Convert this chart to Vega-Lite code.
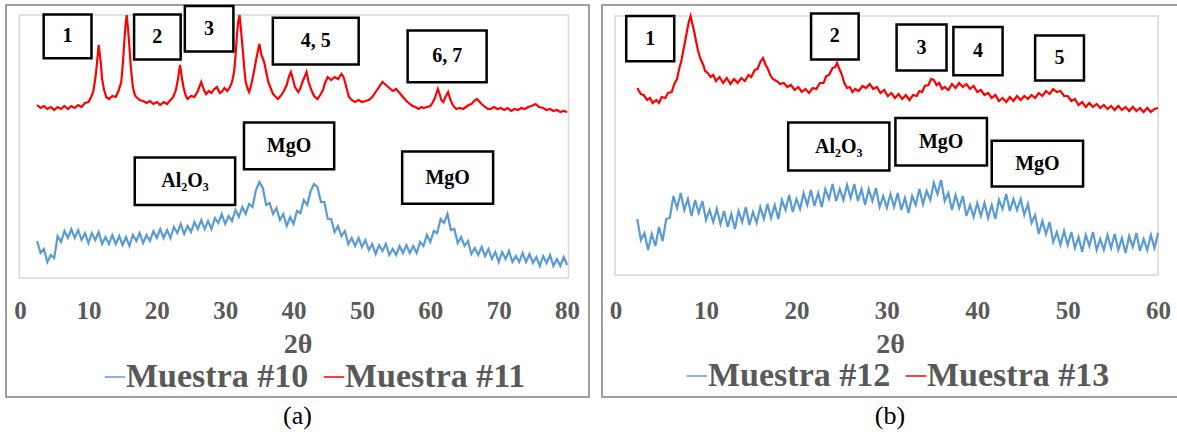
{
"$schema":"https://vega.github.io/schema/vega-lite/v6.json",
"padding":{"left":5,"top":3,"right":0,"bottom":0},
"spacing":11,
"config":{
 "view":{"stroke":"#808080","strokeWidth":1.5},
 "font":"Liberation Serif, DejaVu Serif, serif",
 "axisX":{"offset":-101,"domain":false,"ticks":false,"grid":false,"tickCount":8,"labelFont":"Liberation Serif, DejaVu Serif, serif","labelFontSize":25,"labelFontWeight":"bold","labelColor":"#595959","labelPadding":2,"titleFont":"Liberation Serif, DejaVu Serif, serif","titleFontSize":28,"titleFontWeight":"bold","titleColor":"#595959","titlePadding":7},
 "title":{"font":"Liberation Serif, DejaVu Serif, serif","fontSize":26,"fontWeight":"normal","color":"#000000","offset":6,"anchor":"middle"},
 "legend":{"orient":"none","direction":"horizontal","symbolType":"stroke","symbolSize":420,"symbolStrokeWidth":1.5,"labelFont":"Liberation Serif, DejaVu Serif, serif","labelFontSize":34,"labelFontWeight":"bold","labelColor":"#595959","columnPadding":8,"labelOffset":-6,"padding":0,"labelLimit":400}
},
"datasets":{
"a":[
{"s":"Muestra #10","x":2.5,"y":156},{"s":"Muestra #10","x":3,"y":144},{"s":"Muestra #10","x":3.5,"y":148},{"s":"Muestra #10","x":4,"y":135},{"s":"Muestra #10","x":4.5,"y":142},{"s":"Muestra #10","x":5,"y":139},{"s":"Muestra #10","x":5.5,"y":161},{"s":"Muestra #10","x":6,"y":155},{"s":"Muestra #10","x":6.5,"y":166},{"s":"Muestra #10","x":7,"y":159},{"s":"Muestra #10","x":7.5,"y":168},{"s":"Muestra #10","x":8,"y":159},{"s":"Muestra #10","x":8.5,"y":167},{"s":"Muestra #10","x":9,"y":157},{"s":"Muestra #10","x":9.5,"y":164},{"s":"Muestra #10","x":10,"y":154},{"s":"Muestra #10","x":10.5,"y":164},{"s":"Muestra #10","x":11,"y":157},{"s":"Muestra #10","x":11.5,"y":165},{"s":"Muestra #10","x":12,"y":153},{"s":"Muestra #10","x":12.5,"y":160},{"s":"Muestra #10","x":13,"y":153},{"s":"Muestra #10","x":13.5,"y":162},{"s":"Muestra #10","x":14,"y":153},{"s":"Muestra #10","x":14.5,"y":161},{"s":"Muestra #10","x":15,"y":152},{"s":"Muestra #10","x":15.5,"y":160},{"s":"Muestra #10","x":16,"y":151},{"s":"Muestra #10","x":16.5,"y":162},{"s":"Muestra #10","x":17,"y":156},{"s":"Muestra #10","x":17.5,"y":164},{"s":"Muestra #10","x":18,"y":154},{"s":"Muestra #10","x":18.5,"y":162},{"s":"Muestra #10","x":19,"y":156},{"s":"Muestra #10","x":19.5,"y":166},{"s":"Muestra #10","x":20,"y":159},{"s":"Muestra #10","x":20.5,"y":168},{"s":"Muestra #10","x":21,"y":159},{"s":"Muestra #10","x":21.5,"y":167},{"s":"Muestra #10","x":22,"y":159},{"s":"Muestra #10","x":22.5,"y":170},{"s":"Muestra #10","x":23,"y":164},{"s":"Muestra #10","x":23.5,"y":173},{"s":"Muestra #10","x":24,"y":163},{"s":"Muestra #10","x":24.5,"y":171},{"s":"Muestra #10","x":25,"y":165},{"s":"Muestra #10","x":25.5,"y":175},{"s":"Muestra #10","x":26,"y":168},{"s":"Muestra #10","x":26.5,"y":177},{"s":"Muestra #10","x":27,"y":168},{"s":"Muestra #10","x":27.5,"y":176},{"s":"Muestra #10","x":28,"y":168},{"s":"Muestra #10","x":28.5,"y":179},{"s":"Muestra #10","x":29,"y":174},{"s":"Muestra #10","x":29.5,"y":183},{"s":"Muestra #10","x":30,"y":173},{"s":"Muestra #10","x":30.5,"y":181},{"s":"Muestra #10","x":31,"y":176},{"s":"Muestra #10","x":31.5,"y":187},{"s":"Muestra #10","x":32,"y":180},{"s":"Muestra #10","x":32.5,"y":190},{"s":"Muestra #10","x":33,"y":183},{"s":"Muestra #10","x":33.5,"y":193},{"s":"Muestra #10","x":34,"y":190},{"s":"Muestra #10","x":34.5,"y":207},{"s":"Muestra #10","x":35,"y":215},{"s":"Muestra #10","x":35.5,"y":209},{"s":"Muestra #10","x":36,"y":192},{"s":"Muestra #10","x":36.5,"y":194},{"s":"Muestra #10","x":37,"y":183},{"s":"Muestra #10","x":37.5,"y":189},{"s":"Muestra #10","x":38,"y":177},{"s":"Muestra #10","x":38.5,"y":183},{"s":"Muestra #10","x":39,"y":171},{"s":"Muestra #10","x":39.5,"y":180},{"s":"Muestra #10","x":40,"y":173},{"s":"Muestra #10","x":40.5,"y":186},{"s":"Muestra #10","x":41,"y":184},{"s":"Muestra #10","x":41.5,"y":197},{"s":"Muestra #10","x":42,"y":192},{"s":"Muestra #10","x":42.5,"y":206},{"s":"Muestra #10","x":43,"y":213},{"s":"Muestra #10","x":43.5,"y":210},{"s":"Muestra #10","x":44,"y":195},{"s":"Muestra #10","x":44.5,"y":195},{"s":"Muestra #10","x":45,"y":178},{"s":"Muestra #10","x":45.5,"y":178},{"s":"Muestra #10","x":46,"y":165},{"s":"Muestra #10","x":46.5,"y":171},{"s":"Muestra #10","x":47,"y":161},{"s":"Muestra #10","x":47.5,"y":166},{"s":"Muestra #10","x":48,"y":153},{"s":"Muestra #10","x":48.5,"y":159},{"s":"Muestra #10","x":49,"y":151},{"s":"Muestra #10","x":49.5,"y":159},{"s":"Muestra #10","x":50,"y":150},{"s":"Muestra #10","x":50.5,"y":157},{"s":"Muestra #10","x":51,"y":147},{"s":"Muestra #10","x":51.5,"y":153},{"s":"Muestra #10","x":52,"y":143},{"s":"Muestra #10","x":52.5,"y":152},{"s":"Muestra #10","x":53,"y":146},{"s":"Muestra #10","x":53.5,"y":153},{"s":"Muestra #10","x":54,"y":142},{"s":"Muestra #10","x":54.5,"y":148},{"s":"Muestra #10","x":55,"y":142},{"s":"Muestra #10","x":55.5,"y":151},{"s":"Muestra #10","x":56,"y":144},{"s":"Muestra #10","x":56.5,"y":152},{"s":"Muestra #10","x":57,"y":144},{"s":"Muestra #10","x":57.5,"y":151},{"s":"Muestra #10","x":58,"y":144},{"s":"Muestra #10","x":58.5,"y":155},{"s":"Muestra #10","x":59,"y":151},{"s":"Muestra #10","x":59.5,"y":162},{"s":"Muestra #10","x":60,"y":155},{"s":"Muestra #10","x":60.5,"y":166},{"s":"Muestra #10","x":61,"y":164},{"s":"Muestra #10","x":61.5,"y":178},{"s":"Muestra #10","x":62,"y":174},{"s":"Muestra #10","x":62.5,"y":183},{"s":"Muestra #10","x":63,"y":167},{"s":"Muestra #10","x":63.5,"y":168},{"s":"Muestra #10","x":64,"y":154},{"s":"Muestra #10","x":64.5,"y":160},{"s":"Muestra #10","x":65,"y":151},{"s":"Muestra #10","x":65.5,"y":156},{"s":"Muestra #10","x":66,"y":143},{"s":"Muestra #10","x":66.5,"y":149},{"s":"Muestra #10","x":67,"y":142},{"s":"Muestra #10","x":67.5,"y":150},{"s":"Muestra #10","x":68,"y":141},{"s":"Muestra #10","x":68.5,"y":148},{"s":"Muestra #10","x":69,"y":138},{"s":"Muestra #10","x":69.5,"y":145},{"s":"Muestra #10","x":70,"y":135},{"s":"Muestra #10","x":70.5,"y":145},{"s":"Muestra #10","x":71,"y":138},{"s":"Muestra #10","x":71.5,"y":146},{"s":"Muestra #10","x":72,"y":135},{"s":"Muestra #10","x":72.5,"y":141},{"s":"Muestra #10","x":73,"y":135},{"s":"Muestra #10","x":73.5,"y":144},{"s":"Muestra #10","x":74,"y":135},{"s":"Muestra #10","x":74.5,"y":143},{"s":"Muestra #10","x":75,"y":134},{"s":"Muestra #10","x":75.5,"y":140},{"s":"Muestra #10","x":76,"y":131},{"s":"Muestra #10","x":76.5,"y":141},{"s":"Muestra #10","x":77,"y":134},{"s":"Muestra #10","x":77.5,"y":142},{"s":"Muestra #10","x":78,"y":131},{"s":"Muestra #10","x":78.5,"y":138},{"s":"Muestra #10","x":79,"y":131},{"s":"Muestra #10","x":79.5,"y":140},{"s":"Muestra #10","x":80,"y":132},
{"s":"Muestra #11","x":2.5,"y":292},{"s":"Muestra #11","x":3,"y":289},{"s":"Muestra #11","x":3.5,"y":291},{"s":"Muestra #11","x":4,"y":288},{"s":"Muestra #11","x":4.5,"y":290},{"s":"Muestra #11","x":5,"y":287},{"s":"Muestra #11","x":5.5,"y":290},{"s":"Muestra #11","x":6,"y":288},{"s":"Muestra #11","x":6.5,"y":291},{"s":"Muestra #11","x":7,"y":288},{"s":"Muestra #11","x":7.5,"y":291},{"s":"Muestra #11","x":8,"y":289},{"s":"Muestra #11","x":8.5,"y":292},{"s":"Muestra #11","x":9,"y":290},{"s":"Muestra #11","x":9.5,"y":294},{"s":"Muestra #11","x":10,"y":295},{"s":"Muestra #11","x":10.4,"y":300},{"s":"Muestra #11","x":10.7,"y":305},{"s":"Muestra #11","x":11,"y":318},{"s":"Muestra #11","x":11.2,"y":330},{"s":"Muestra #11","x":11.5,"y":352},{"s":"Muestra #11","x":11.8,"y":335},{"s":"Muestra #11","x":12,"y":318},{"s":"Muestra #11","x":12.3,"y":307},{"s":"Muestra #11","x":12.6,"y":300},{"s":"Muestra #11","x":13,"y":298},{"s":"Muestra #11","x":13.5,"y":301},{"s":"Muestra #11","x":14,"y":300},{"s":"Muestra #11","x":14.4,"y":306},{"s":"Muestra #11","x":14.8,"y":315},{"s":"Muestra #11","x":15,"y":330},{"s":"Muestra #11","x":15.2,"y":350},{"s":"Muestra #11","x":15.4,"y":370},{"s":"Muestra #11","x":15.6,"y":382},{"s":"Muestra #11","x":15.8,"y":368},{"s":"Muestra #11","x":16,"y":350},{"s":"Muestra #11","x":16.2,"y":330},{"s":"Muestra #11","x":16.5,"y":310},{"s":"Muestra #11","x":16.8,"y":302},{"s":"Muestra #11","x":17,"y":300},{"s":"Muestra #11","x":17.5,"y":297},{"s":"Muestra #11","x":18,"y":296},{"s":"Muestra #11","x":18.5,"y":294},{"s":"Muestra #11","x":19,"y":296},{"s":"Muestra #11","x":19.5,"y":293},{"s":"Muestra #11","x":20,"y":295},{"s":"Muestra #11","x":20.5,"y":292},{"s":"Muestra #11","x":21,"y":295},{"s":"Muestra #11","x":21.5,"y":293},{"s":"Muestra #11","x":22,"y":297},{"s":"Muestra #11","x":22.4,"y":300},{"s":"Muestra #11","x":22.8,"y":307},{"s":"Muestra #11","x":23.1,"y":318},{"s":"Muestra #11","x":23.4,"y":332},{"s":"Muestra #11","x":23.7,"y":318},{"s":"Muestra #11","x":23.9,"y":310},{"s":"Muestra #11","x":24.2,"y":302},{"s":"Muestra #11","x":24.5,"y":298},{"s":"Muestra #11","x":25,"y":301},{"s":"Muestra #11","x":25.5,"y":300},{"s":"Muestra #11","x":26,"y":306},{"s":"Muestra #11","x":26.5,"y":315},{"s":"Muestra #11","x":26.9,"y":307},{"s":"Muestra #11","x":27.2,"y":303},{"s":"Muestra #11","x":27.6,"y":306},{"s":"Muestra #11","x":28,"y":304},{"s":"Muestra #11","x":28.4,"y":308},{"s":"Muestra #11","x":28.8,"y":310},{"s":"Muestra #11","x":29.2,"y":304},{"s":"Muestra #11","x":29.5,"y":305},{"s":"Muestra #11","x":29.9,"y":309},{"s":"Muestra #11","x":30.3,"y":306},{"s":"Muestra #11","x":30.7,"y":310},{"s":"Muestra #11","x":31,"y":315},{"s":"Muestra #11","x":31.3,"y":325},{"s":"Muestra #11","x":31.5,"y":340},{"s":"Muestra #11","x":31.7,"y":360},{"s":"Muestra #11","x":31.9,"y":375},{"s":"Muestra #11","x":32.1,"y":382},{"s":"Muestra #11","x":32.3,"y":368},{"s":"Muestra #11","x":32.6,"y":345},{"s":"Muestra #11","x":32.8,"y":328},{"s":"Muestra #11","x":33,"y":315},{"s":"Muestra #11","x":33.3,"y":308},{"s":"Muestra #11","x":33.5,"y":305},{"s":"Muestra #11","x":33.8,"y":312},{"s":"Muestra #11","x":34.2,"y":325},{"s":"Muestra #11","x":34.6,"y":340},{"s":"Muestra #11","x":35,"y":353},{"s":"Muestra #11","x":35.3,"y":342},{"s":"Muestra #11","x":35.7,"y":335},{"s":"Muestra #11","x":36,"y":325},{"s":"Muestra #11","x":36.3,"y":315},{"s":"Muestra #11","x":36.7,"y":308},{"s":"Muestra #11","x":37,"y":303},{"s":"Muestra #11","x":37.4,"y":300},{"s":"Muestra #11","x":37.7,"y":298},{"s":"Muestra #11","x":38.1,"y":301},{"s":"Muestra #11","x":38.5,"y":305},{"s":"Muestra #11","x":39,"y":312},{"s":"Muestra #11","x":39.3,"y":320},{"s":"Muestra #11","x":39.6,"y":325},{"s":"Muestra #11","x":39.9,"y":318},{"s":"Muestra #11","x":40.2,"y":310},{"s":"Muestra #11","x":40.7,"y":305},{"s":"Muestra #11","x":41,"y":309},{"s":"Muestra #11","x":41.3,"y":315},{"s":"Muestra #11","x":41.6,"y":320},{"s":"Muestra #11","x":41.9,"y":325},{"s":"Muestra #11","x":42.2,"y":315},{"s":"Muestra #11","x":42.6,"y":307},{"s":"Muestra #11","x":43,"y":301},{"s":"Muestra #11","x":43.5,"y":298},{"s":"Muestra #11","x":43.9,"y":302},{"s":"Muestra #11","x":44.3,"y":307},{"s":"Muestra #11","x":44.6,"y":314},{"s":"Muestra #11","x":45,"y":320},{"s":"Muestra #11","x":45.5,"y":317},{"s":"Muestra #11","x":46,"y":320},{"s":"Muestra #11","x":46.5,"y":318},{"s":"Muestra #11","x":47,"y":323},{"s":"Muestra #11","x":47.3,"y":320},{"s":"Muestra #11","x":47.6,"y":313},{"s":"Muestra #11","x":47.9,"y":305},{"s":"Muestra #11","x":48.1,"y":300},{"s":"Muestra #11","x":48.5,"y":297},{"s":"Muestra #11","x":49,"y":295},{"s":"Muestra #11","x":49.5,"y":297},{"s":"Muestra #11","x":50,"y":295},{"s":"Muestra #11","x":50.5,"y":296},{"s":"Muestra #11","x":51,"y":297},{"s":"Muestra #11","x":51.5,"y":300},{"s":"Muestra #11","x":52,"y":305},{"s":"Muestra #11","x":52.5,"y":310},{"s":"Muestra #11","x":53,"y":315},{"s":"Muestra #11","x":53.5,"y":312},{"s":"Muestra #11","x":54,"y":309},{"s":"Muestra #11","x":54.5,"y":306},{"s":"Muestra #11","x":55,"y":308},{"s":"Muestra #11","x":55.5,"y":304},{"s":"Muestra #11","x":56,"y":300},{"s":"Muestra #11","x":56.5,"y":296},{"s":"Muestra #11","x":57,"y":293},{"s":"Muestra #11","x":57.4,"y":291},{"s":"Muestra #11","x":57.8,"y":290},{"s":"Muestra #11","x":58.3,"y":288},{"s":"Muestra #11","x":58.7,"y":290},{"s":"Muestra #11","x":59,"y":289},{"s":"Muestra #11","x":59.5,"y":290},{"s":"Muestra #11","x":60,"y":291},{"s":"Muestra #11","x":60.3,"y":294},{"s":"Muestra #11","x":60.6,"y":298},{"s":"Muestra #11","x":60.9,"y":304},{"s":"Muestra #11","x":61.1,"y":308},{"s":"Muestra #11","x":61.4,"y":302},{"s":"Muestra #11","x":61.6,"y":297},{"s":"Muestra #11","x":61.9,"y":295},{"s":"Muestra #11","x":62.2,"y":300},{"s":"Muestra #11","x":62.6,"y":305},{"s":"Muestra #11","x":62.9,"y":298},{"s":"Muestra #11","x":63.2,"y":293},{"s":"Muestra #11","x":63.5,"y":290},{"s":"Muestra #11","x":63.8,"y":288},{"s":"Muestra #11","x":64.3,"y":289},{"s":"Muestra #11","x":64.8,"y":288},{"s":"Muestra #11","x":65.2,"y":290},{"s":"Muestra #11","x":65.6,"y":292},{"s":"Muestra #11","x":66,"y":293},{"s":"Muestra #11","x":66.4,"y":296},{"s":"Muestra #11","x":66.8,"y":298},{"s":"Muestra #11","x":67.1,"y":296},{"s":"Muestra #11","x":67.5,"y":293},{"s":"Muestra #11","x":68,"y":290},{"s":"Muestra #11","x":68.4,"y":288},{"s":"Muestra #11","x":68.8,"y":288},{"s":"Muestra #11","x":69.3,"y":290},{"s":"Muestra #11","x":69.8,"y":288},{"s":"Muestra #11","x":70.3,"y":289},{"s":"Muestra #11","x":70.8,"y":287},{"s":"Muestra #11","x":71.3,"y":289},{"s":"Muestra #11","x":71.8,"y":286},{"s":"Muestra #11","x":72.3,"y":288},{"s":"Muestra #11","x":72.8,"y":287},{"s":"Muestra #11","x":73.3,"y":289},{"s":"Muestra #11","x":73.8,"y":288},{"s":"Muestra #11","x":74.3,"y":290},{"s":"Muestra #11","x":74.8,"y":291},{"s":"Muestra #11","x":75.4,"y":293},{"s":"Muestra #11","x":75.9,"y":290},{"s":"Muestra #11","x":76.5,"y":289},{"s":"Muestra #11","x":77,"y":287},{"s":"Muestra #11","x":77.5,"y":288},{"s":"Muestra #11","x":78,"y":286},{"s":"Muestra #11","x":78.5,"y":287},{"s":"Muestra #11","x":79,"y":285},{"s":"Muestra #11","x":79.5,"y":286},{"s":"Muestra #11","x":80,"y":285}
],
"b":[
{"s":"Muestra #12","x":2.4,"y":178},{"s":"Muestra #12","x":2.8,"y":157},{"s":"Muestra #12","x":3.2,"y":164},{"s":"Muestra #12","x":3.6,"y":147},{"s":"Muestra #12","x":4,"y":163},{"s":"Muestra #12","x":4.4,"y":151},{"s":"Muestra #12","x":4.8,"y":170},{"s":"Muestra #12","x":5.2,"y":156},{"s":"Muestra #12","x":5.6,"y":178},{"s":"Muestra #12","x":6,"y":179},{"s":"Muestra #12","x":6.4,"y":201},{"s":"Muestra #12","x":6.8,"y":189},{"s":"Muestra #12","x":7.2,"y":204},{"s":"Muestra #12","x":7.6,"y":187},{"s":"Muestra #12","x":8,"y":198},{"s":"Muestra #12","x":8.4,"y":181},{"s":"Muestra #12","x":8.8,"y":197},{"s":"Muestra #12","x":9.2,"y":184},{"s":"Muestra #12","x":9.6,"y":196},{"s":"Muestra #12","x":10,"y":177},{"s":"Muestra #12","x":10.4,"y":187},{"s":"Muestra #12","x":10.8,"y":175},{"s":"Muestra #12","x":11.2,"y":188},{"s":"Muestra #12","x":11.6,"y":173},{"s":"Muestra #12","x":12,"y":186},{"s":"Muestra #12","x":12.4,"y":170},{"s":"Muestra #12","x":12.8,"y":183},{"s":"Muestra #12","x":13.2,"y":168},{"s":"Muestra #12","x":13.6,"y":186},{"s":"Muestra #12","x":14,"y":175},{"s":"Muestra #12","x":14.4,"y":190},{"s":"Muestra #12","x":14.8,"y":172},{"s":"Muestra #12","x":15.2,"y":185},{"s":"Muestra #12","x":15.6,"y":174},{"s":"Muestra #12","x":16,"y":190},{"s":"Muestra #12","x":16.4,"y":178},{"s":"Muestra #12","x":16.8,"y":193},{"s":"Muestra #12","x":17.2,"y":179},{"s":"Muestra #12","x":17.6,"y":192},{"s":"Muestra #12","x":18,"y":178},{"s":"Muestra #12","x":18.4,"y":197},{"s":"Muestra #12","x":18.8,"y":187},{"s":"Muestra #12","x":19.2,"y":202},{"s":"Muestra #12","x":19.6,"y":185},{"s":"Muestra #12","x":20,"y":198},{"s":"Muestra #12","x":20.4,"y":188},{"s":"Muestra #12","x":20.8,"y":204},{"s":"Muestra #12","x":21.2,"y":192},{"s":"Muestra #12","x":21.6,"y":207},{"s":"Muestra #12","x":22,"y":191},{"s":"Muestra #12","x":22.4,"y":204},{"s":"Muestra #12","x":22.8,"y":190},{"s":"Muestra #12","x":23.2,"y":208},{"s":"Muestra #12","x":23.6,"y":198},{"s":"Muestra #12","x":24,"y":213},{"s":"Muestra #12","x":24.4,"y":196},{"s":"Muestra #12","x":24.8,"y":208},{"s":"Muestra #12","x":25.2,"y":197},{"s":"Muestra #12","x":25.6,"y":212},{"s":"Muestra #12","x":26,"y":199},{"s":"Muestra #12","x":26.4,"y":213},{"s":"Muestra #12","x":26.8,"y":196},{"s":"Muestra #12","x":27.2,"y":208},{"s":"Muestra #12","x":27.6,"y":192},{"s":"Muestra #12","x":28,"y":208},{"s":"Muestra #12","x":28.4,"y":196},{"s":"Muestra #12","x":28.8,"y":209},{"s":"Muestra #12","x":29.2,"y":190},{"s":"Muestra #12","x":29.6,"y":201},{"s":"Muestra #12","x":30,"y":189},{"s":"Muestra #12","x":30.4,"y":203},{"s":"Muestra #12","x":30.8,"y":190},{"s":"Muestra #12","x":31.2,"y":204},{"s":"Muestra #12","x":31.6,"y":187},{"s":"Muestra #12","x":32,"y":199},{"s":"Muestra #12","x":32.4,"y":184},{"s":"Muestra #12","x":32.8,"y":201},{"s":"Muestra #12","x":33.2,"y":192},{"s":"Muestra #12","x":33.6,"y":208},{"s":"Muestra #12","x":34,"y":193},{"s":"Muestra #12","x":34.4,"y":206},{"s":"Muestra #12","x":34.8,"y":197},{"s":"Muestra #12","x":35.2,"y":214},{"s":"Muestra #12","x":35.6,"y":203},{"s":"Muestra #12","x":36,"y":217},{"s":"Muestra #12","x":36.4,"y":196},{"s":"Muestra #12","x":36.8,"y":204},{"s":"Muestra #12","x":37.2,"y":187},{"s":"Muestra #12","x":37.6,"y":202},{"s":"Muestra #12","x":38,"y":189},{"s":"Muestra #12","x":38.4,"y":201},{"s":"Muestra #12","x":38.8,"y":181},{"s":"Muestra #12","x":39.2,"y":192},{"s":"Muestra #12","x":39.6,"y":180},{"s":"Muestra #12","x":40,"y":194},{"s":"Muestra #12","x":40.4,"y":181},{"s":"Muestra #12","x":40.8,"y":194},{"s":"Muestra #12","x":41.2,"y":179},{"s":"Muestra #12","x":41.6,"y":192},{"s":"Muestra #12","x":42,"y":178},{"s":"Muestra #12","x":42.4,"y":197},{"s":"Muestra #12","x":42.8,"y":188},{"s":"Muestra #12","x":43.2,"y":203},{"s":"Muestra #12","x":43.6,"y":186},{"s":"Muestra #12","x":44,"y":198},{"s":"Muestra #12","x":44.4,"y":187},{"s":"Muestra #12","x":44.8,"y":198},{"s":"Muestra #12","x":45.2,"y":182},{"s":"Muestra #12","x":45.6,"y":193},{"s":"Muestra #12","x":46,"y":174},{"s":"Muestra #12","x":46.4,"y":182},{"s":"Muestra #12","x":46.8,"y":163},{"s":"Muestra #12","x":47.2,"y":176},{"s":"Muestra #12","x":47.6,"y":163},{"s":"Muestra #12","x":48,"y":175},{"s":"Muestra #12","x":48.4,"y":155},{"s":"Muestra #12","x":48.8,"y":165},{"s":"Muestra #12","x":49.2,"y":152},{"s":"Muestra #12","x":49.6,"y":166},{"s":"Muestra #12","x":50,"y":152},{"s":"Muestra #12","x":50.4,"y":165},{"s":"Muestra #12","x":50.8,"y":149},{"s":"Muestra #12","x":51.2,"y":160},{"s":"Muestra #12","x":51.6,"y":145},{"s":"Muestra #12","x":52,"y":162},{"s":"Muestra #12","x":52.4,"y":151},{"s":"Muestra #12","x":52.8,"y":165},{"s":"Muestra #12","x":53.2,"y":147},{"s":"Muestra #12","x":53.6,"y":158},{"s":"Muestra #12","x":54,"y":147},{"s":"Muestra #12","x":54.4,"y":162},{"s":"Muestra #12","x":54.8,"y":149},{"s":"Muestra #12","x":55.2,"y":163},{"s":"Muestra #12","x":55.6,"y":147},{"s":"Muestra #12","x":56,"y":159},{"s":"Muestra #12","x":56.4,"y":144},{"s":"Muestra #12","x":56.8,"y":161},{"s":"Muestra #12","x":57.2,"y":150},{"s":"Muestra #12","x":57.6,"y":164},{"s":"Muestra #12","x":58,"y":146},{"s":"Muestra #12","x":58.4,"y":158},{"s":"Muestra #12","x":58.8,"y":147},{"s":"Muestra #12","x":59.2,"y":162},{"s":"Muestra #12","x":59.6,"y":149},{"s":"Muestra #12","x":60,"y":164},
{"s":"Muestra #13","x":2.4,"y":309},{"s":"Muestra #13","x":2.8,"y":303},{"s":"Muestra #13","x":3.1,"y":302},{"s":"Muestra #13","x":3.5,"y":297},{"s":"Muestra #13","x":3.8,"y":299},{"s":"Muestra #13","x":4.1,"y":294},{"s":"Muestra #13","x":4.5,"y":297},{"s":"Muestra #13","x":4.8,"y":294},{"s":"Muestra #13","x":5.1,"y":300},{"s":"Muestra #13","x":5.5,"y":299},{"s":"Muestra #13","x":5.8,"y":304},{"s":"Muestra #13","x":6.2,"y":305},{"s":"Muestra #13","x":6.5,"y":313},{"s":"Muestra #13","x":6.8,"y":318},{"s":"Muestra #13","x":7,"y":327},{"s":"Muestra #13","x":7.3,"y":337},{"s":"Muestra #13","x":7.5,"y":347},{"s":"Muestra #13","x":7.7,"y":356},{"s":"Muestra #13","x":7.9,"y":366},{"s":"Muestra #13","x":8.1,"y":375},{"s":"Muestra #13","x":8.3,"y":381},{"s":"Muestra #13","x":8.5,"y":373},{"s":"Muestra #13","x":8.7,"y":365},{"s":"Muestra #13","x":8.9,"y":356},{"s":"Muestra #13","x":9.1,"y":347},{"s":"Muestra #13","x":9.4,"y":338},{"s":"Muestra #13","x":9.7,"y":332},{"s":"Muestra #13","x":9.9,"y":326},{"s":"Muestra #13","x":10.2,"y":324},{"s":"Muestra #13","x":10.5,"y":320},{"s":"Muestra #13","x":10.8,"y":322},{"s":"Muestra #13","x":11.1,"y":316},{"s":"Muestra #13","x":11.5,"y":320},{"s":"Muestra #13","x":11.9,"y":314},{"s":"Muestra #13","x":12.3,"y":319},{"s":"Muestra #13","x":12.7,"y":313},{"s":"Muestra #13","x":13.1,"y":318},{"s":"Muestra #13","x":13.5,"y":314},{"s":"Muestra #13","x":13.9,"y":319},{"s":"Muestra #13","x":14.3,"y":316},{"s":"Muestra #13","x":14.7,"y":322},{"s":"Muestra #13","x":15,"y":320},{"s":"Muestra #13","x":15.4,"y":327},{"s":"Muestra #13","x":15.7,"y":328},{"s":"Muestra #13","x":16,"y":335},{"s":"Muestra #13","x":16.3,"y":339},{"s":"Muestra #13","x":16.6,"y":332},{"s":"Muestra #13","x":16.8,"y":329},{"s":"Muestra #13","x":17.1,"y":322},{"s":"Muestra #13","x":17.4,"y":318},{"s":"Muestra #13","x":17.8,"y":316},{"s":"Muestra #13","x":18.2,"y":313},{"s":"Muestra #13","x":18.6,"y":314},{"s":"Muestra #13","x":19,"y":310},{"s":"Muestra #13","x":19.4,"y":312},{"s":"Muestra #13","x":19.8,"y":307},{"s":"Muestra #13","x":20.2,"y":310},{"s":"Muestra #13","x":20.6,"y":305},{"s":"Muestra #13","x":21,"y":308},{"s":"Muestra #13","x":21.4,"y":304},{"s":"Muestra #13","x":21.8,"y":309},{"s":"Muestra #13","x":22.2,"y":308},{"s":"Muestra #13","x":22.6,"y":314},{"s":"Muestra #13","x":23,"y":314},{"s":"Muestra #13","x":23.3,"y":321},{"s":"Muestra #13","x":23.6,"y":322},{"s":"Muestra #13","x":24,"y":329},{"s":"Muestra #13","x":24.3,"y":330},{"s":"Muestra #13","x":24.5,"y":334},{"s":"Muestra #13","x":24.8,"y":327},{"s":"Muestra #13","x":25,"y":323},{"s":"Muestra #13","x":25.3,"y":314},{"s":"Muestra #13","x":25.6,"y":309},{"s":"Muestra #13","x":25.9,"y":310},{"s":"Muestra #13","x":26.2,"y":305},{"s":"Muestra #13","x":26.5,"y":308},{"s":"Muestra #13","x":26.9,"y":306},{"s":"Muestra #13","x":27.3,"y":311},{"s":"Muestra #13","x":27.7,"y":309},{"s":"Muestra #13","x":28.1,"y":313},{"s":"Muestra #13","x":28.5,"y":308},{"s":"Muestra #13","x":28.9,"y":310},{"s":"Muestra #13","x":29.3,"y":304},{"s":"Muestra #13","x":29.7,"y":307},{"s":"Muestra #13","x":30.1,"y":301},{"s":"Muestra #13","x":30.5,"y":304},{"s":"Muestra #13","x":30.9,"y":299},{"s":"Muestra #13","x":31.3,"y":303},{"s":"Muestra #13","x":31.7,"y":298},{"s":"Muestra #13","x":32.1,"y":302},{"s":"Muestra #13","x":32.5,"y":297},{"s":"Muestra #13","x":32.9,"y":302},{"s":"Muestra #13","x":33.3,"y":301},{"s":"Muestra #13","x":33.6,"y":306},{"s":"Muestra #13","x":33.9,"y":305},{"s":"Muestra #13","x":34.2,"y":311},{"s":"Muestra #13","x":34.6,"y":312},{"s":"Muestra #13","x":34.9,"y":318},{"s":"Muestra #13","x":35.2,"y":317},{"s":"Muestra #13","x":35.5,"y":312},{"s":"Muestra #13","x":35.8,"y":314},{"s":"Muestra #13","x":36.1,"y":308},{"s":"Muestra #13","x":36.4,"y":310},{"s":"Muestra #13","x":36.8,"y":307},{"s":"Muestra #13","x":37.2,"y":313},{"s":"Muestra #13","x":37.6,"y":309},{"s":"Muestra #13","x":38,"y":314},{"s":"Muestra #13","x":38.4,"y":310},{"s":"Muestra #13","x":38.8,"y":313},{"s":"Muestra #13","x":39.2,"y":308},{"s":"Muestra #13","x":39.6,"y":311},{"s":"Muestra #13","x":40,"y":305},{"s":"Muestra #13","x":40.4,"y":307},{"s":"Muestra #13","x":40.8,"y":302},{"s":"Muestra #13","x":41.2,"y":304},{"s":"Muestra #13","x":41.6,"y":299},{"s":"Muestra #13","x":42,"y":302},{"s":"Muestra #13","x":42.4,"y":296},{"s":"Muestra #13","x":42.8,"y":299},{"s":"Muestra #13","x":43.2,"y":295},{"s":"Muestra #13","x":43.6,"y":300},{"s":"Muestra #13","x":44,"y":296},{"s":"Muestra #13","x":44.4,"y":301},{"s":"Muestra #13","x":44.8,"y":297},{"s":"Muestra #13","x":45.2,"y":301},{"s":"Muestra #13","x":45.6,"y":298},{"s":"Muestra #13","x":46,"y":302},{"s":"Muestra #13","x":46.4,"y":299},{"s":"Muestra #13","x":46.8,"y":304},{"s":"Muestra #13","x":47.2,"y":301},{"s":"Muestra #13","x":47.6,"y":306},{"s":"Muestra #13","x":48,"y":303},{"s":"Muestra #13","x":48.4,"y":308},{"s":"Muestra #13","x":48.8,"y":305},{"s":"Muestra #13","x":49.2,"y":306},{"s":"Muestra #13","x":49.6,"y":301},{"s":"Muestra #13","x":50,"y":301},{"s":"Muestra #13","x":50.4,"y":296},{"s":"Muestra #13","x":50.8,"y":298},{"s":"Muestra #13","x":51.2,"y":292},{"s":"Muestra #13","x":51.6,"y":295},{"s":"Muestra #13","x":52,"y":290},{"s":"Muestra #13","x":52.4,"y":294},{"s":"Muestra #13","x":52.8,"y":290},{"s":"Muestra #13","x":53.2,"y":293},{"s":"Muestra #13","x":53.6,"y":289},{"s":"Muestra #13","x":54,"y":292},{"s":"Muestra #13","x":54.4,"y":288},{"s":"Muestra #13","x":54.8,"y":291},{"s":"Muestra #13","x":55.2,"y":287},{"s":"Muestra #13","x":55.6,"y":291},{"s":"Muestra #13","x":56,"y":287},{"s":"Muestra #13","x":56.4,"y":290},{"s":"Muestra #13","x":56.8,"y":286},{"s":"Muestra #13","x":57.2,"y":290},{"s":"Muestra #13","x":57.6,"y":286},{"s":"Muestra #13","x":58,"y":289},{"s":"Muestra #13","x":58.4,"y":285},{"s":"Muestra #13","x":58.8,"y":289},{"s":"Muestra #13","x":59.2,"y":285},{"s":"Muestra #13","x":59.6,"y":288},{"s":"Muestra #13","x":60,"y":289}
],
"boxA":[
{"t":"1","x1":3.46,"x2":10.45,"y1":338.8,"y2":382.6},
{"t":"2","x1":16.68,"x2":23.49,"y1":337.5,"y2":382.6},
{"t":"3","x1":24.1,"x2":31.2,"y1":345.5,"y2":391},
{"t":"4, 5","x1":36.97,"x2":49.52,"y1":332.5,"y2":379.3},
{"t":"6, 7","x1":56.68,"x2":68.23,"y1":314.7,"y2":366.6},
{"t":"MgO","x1":32.75,"x2":45.94,"y1":227.8,"y2":274.6},
{"t":"Al₂O₃","x1":16.78,"x2":31.46,"y1":192,"y2":239.5},
{"t":"MgO","x1":55.88,"x2":69.18,"y1":193.3,"y2":245.5}
],
"boxB":[
{"t":"1","x1":1.18,"x2":6.49,"y1":335.8,"y2":381},
{"t":"2","x1":21.62,"x2":26.88,"y1":337.5,"y2":383.6},
{"t":"3","x1":31.08,"x2":36.6,"y1":326.4,"y2":372.6},
{"t":"4","x1":37.36,"x2":42.8,"y1":321.8,"y2":370},
{"t":"5","x1":46.4,"x2":51.8,"y1":316.4,"y2":361.6},
{"t":"Al₂O₃","x1":19.09,"x2":30.28,"y1":226.4,"y2":274.6},
{"t":"MgO","x1":30.95,"x2":41.07,"y1":231.5,"y2":279},
{"t":"MgO","x1":41.6,"x2":51.7,"y1":210.4,"y2":256.2}
]
},
"resolve":{"scale":{"x":"independent","y":"independent","color":"independent"},"legend":{"color":"independent"}},
"hconcat":[
{
 "width":583,"height":392,
 "title":{"text":"(a)","orient":"bottom"},
 "layer":[
  {"data":{"values":[{"x1":-0.1,"x2":80.2,"y1":119,"y2":382}]},
   "mark":{"type":"rect","fill":"#ffffff","fillOpacity":0,"stroke":"#D9D9D9","strokeWidth":1.5},
   "encoding":{"x":{"field":"x1","type":"quantitative","scale":{"domain":[-2.05,83.2],"nice":false,"zero":false},"title":"2θ"},"x2":{"field":"x2"},"y":{"field":"y1","type":"quantitative","scale":{"domain":[0,392],"nice":false,"zero":false},"axis":null},"y2":{"field":"y2"}}},
  {"data":{"name":"a"},
   "mark":{"type":"line","strokeWidth":2.2},
   "encoding":{"x":{"field":"x","type":"quantitative","scale":{"domain":[-2.05,83.2],"nice":false,"zero":false},"title":"2θ"},"y":{"field":"y","type":"quantitative","scale":{"domain":[0,392],"nice":false,"zero":false},"axis":null},
    "color":{"field":"s","type":"nominal","scale":{"domain":["Muestra #10","Muestra #11"],"range":["#5B9BD5","#FF0000"]},"legend":{"title":null,"legendX":92,"legendY":355}}}},
  {"data":{"name":"boxA"},
   "mark":{"type":"rect","fill":"#ffffff","stroke":"#000000","strokeWidth":2.5},
   "encoding":{"x":{"field":"x1","type":"quantitative","scale":{"domain":[-2.05,83.2],"nice":false,"zero":false},"title":"2θ"},"x2":{"field":"x2"},"y":{"field":"y1","type":"quantitative","scale":{"domain":[0,392],"nice":false,"zero":false},"axis":null},"y2":{"field":"y2"}}},
  {"data":{"name":"boxA"},
   "transform":[{"calculate":"(datum.x1+datum.x2)/2","as":"cx"},{"calculate":"(datum.y1+datum.y2)/2","as":"cy"}],
   "mark":{"type":"text","font":"Liberation Serif, DejaVu Serif, serif","fontSize":20,"fontWeight":"bold","color":"#000000","align":"center","baseline":"middle"},
   "encoding":{"x":{"field":"cx","type":"quantitative","scale":{"domain":[-2.05,83.2],"nice":false,"zero":false},"title":"2θ"},"y":{"field":"cy","type":"quantitative","scale":{"domain":[0,392],"nice":false,"zero":false},"axis":null},"text":{"field":"t"}}}
 ]
},
{
 "width":576,"height":392,
 "title":{"text":"(b)","orient":"bottom"},
 "layer":[
  {"data":{"values":[{"x1":-0.06,"x2":60.0,"y1":122,"y2":381}]},
   "mark":{"type":"rect","fill":"#ffffff","fillOpacity":0,"stroke":"#D9D9D9","strokeWidth":1.5},
   "encoding":{"x":{"field":"x1","type":"quantitative","scale":{"domain":[-1.5,62.2],"nice":false,"zero":false},"title":"2θ"},"x2":{"field":"x2"},"y":{"field":"y1","type":"quantitative","scale":{"domain":[0,392],"nice":false,"zero":false},"axis":null},"y2":{"field":"y2"}}},
  {"data":{"name":"b"},
   "mark":{"type":"line","strokeWidth":2.2},
   "encoding":{"x":{"field":"x","type":"quantitative","scale":{"domain":[-1.5,62.2],"nice":false,"zero":false},"title":"2θ"},"y":{"field":"y","type":"quantitative","scale":{"domain":[0,392],"nice":false,"zero":false},"axis":null},
    "color":{"field":"s","type":"nominal","scale":{"domain":["Muestra #12","Muestra #13"],"range":["#5B9BD5","#FF0000"]},"legend":{"title":null,"legendX":78,"legendY":354}}}},
  {"data":{"name":"boxB"},
   "mark":{"type":"rect","fill":"#ffffff","stroke":"#000000","strokeWidth":2.5},
   "encoding":{"x":{"field":"x1","type":"quantitative","scale":{"domain":[-1.5,62.2],"nice":false,"zero":false},"title":"2θ"},"x2":{"field":"x2"},"y":{"field":"y1","type":"quantitative","scale":{"domain":[0,392],"nice":false,"zero":false},"axis":null},"y2":{"field":"y2"}}},
  {"data":{"name":"boxB"},
   "transform":[{"calculate":"(datum.x1+datum.x2)/2","as":"cx"},{"calculate":"(datum.y1+datum.y2)/2","as":"cy"}],
   "mark":{"type":"text","font":"Liberation Serif, DejaVu Serif, serif","fontSize":20,"fontWeight":"bold","color":"#000000","align":"center","baseline":"middle"},
   "encoding":{"x":{"field":"cx","type":"quantitative","scale":{"domain":[-1.5,62.2],"nice":false,"zero":false},"title":"2θ"},"y":{"field":"cy","type":"quantitative","scale":{"domain":[0,392],"nice":false,"zero":false},"axis":null},"text":{"field":"t"}}}
 ]
}
]
}
